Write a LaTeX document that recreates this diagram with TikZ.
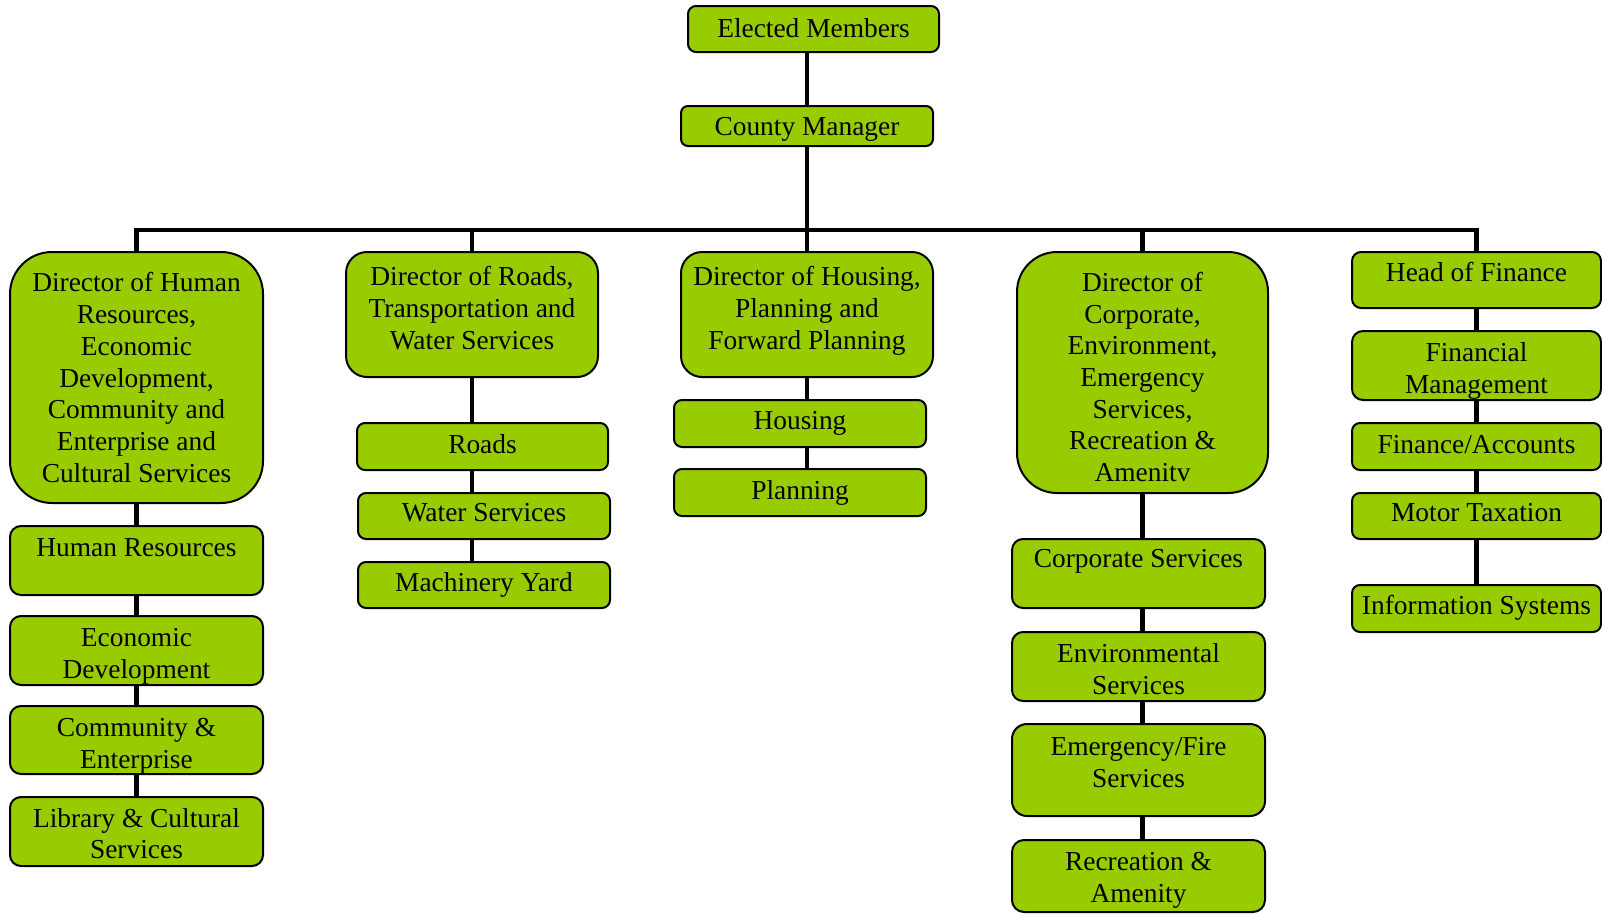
\documentclass[tikz,border=0pt]{standalone}
\usepackage{fontspec}
\setmainfont{Liberation Serif}
\usetikzlibrary{backgrounds}
\definecolor{leaf}{HTML}{99CC00}
\tikzset{
  x=1pt, y=-1pt,
  obox/.style={draw=black, line width=2pt, fill=leaf, rectangle, inner sep=0pt},
  txt/.style={align=center, inner sep=0pt, font=\fontsize{27.4pt}{31.7pt}\selectfont},
  one/.style={txt, text height=0.662em, text depth=0pt},
  conn/.style={draw=black, line width=4.5pt}
}
% name, cx, cy, width, height, radius
\newcommand\mkbox[6]{\node[obox, minimum width=#4pt, minimum height=#5pt, rounded corners=#6pt] (#1) at (#2,#3) {};}
\begin{document}
\begin{tikzpicture}
\useasboundingbox (0,0) rectangle (1602,913);
% top
\mkbox{em}{813.5}{29}{251}{46}{8}
\node[one] (em-t) at (813.5,34.5) {Elected Members};
\mkbox{cm}{807}{126}{252}{40}{7}
\node[one] (cm-t) at (807,132) {County Manager};
% column 1
\mkbox{hrd}{136.5}{377.5}{253}{251}{42}
\node[txt] (hrd-t) at (136.5,377.5) {Director of Human\\Resources,\\Economic\\Development,\\Community and\\Enterprise and\\Cultural Services};
\mkbox{hr1}{136.5}{560.5}{253}{69}{11}
\node[one] (hr1-t) at (136.5,553.3) {Human Resources};
\mkbox{hr2}{136.5}{650.5}{253}{69}{11}
\node[txt] (hr2-t) at (136.5,656) {Economic\\Development};
\mkbox{hr3}{136.5}{740}{253}{68}{11}
\node[txt] (hr3-t) at (136.5,746) {Community \&\\Enterprise};
\mkbox{hr4}{136.5}{831.5}{253}{69}{11}
\node[txt] (hr4-t) at (136.5,833.5) {Library \& Cultural\\Services};
% column 2
\mkbox{rd}{472}{314.5}{252}{125}{21}
\node[txt] (rd-t) at (472,308) {Director of Roads,\\Transportation and\\Water Services};
\mkbox{rd1}{482.5}{446.5}{251}{47}{8}
\node[one] (rd1-t) at (482.5,450) {Roads};
\mkbox{rd2}{484}{516}{252}{46}{8}
\node[one] (rd2-t) at (484,518.5) {Water Services};
\mkbox{rd3}{484}{585}{252}{46}{8}
\node[one] (rd3-t) at (484,588) {Machinery Yard};
% column 3
\mkbox{hd}{807}{314.5}{252}{125}{21}
\node[txt] (hd-t) at (807,311) {Director of Housing,\\Planning and\\Forward Planning};
\mkbox{hd1}{800}{423.5}{252}{47}{8}
\node[one] (hd1-t) at (800,426.5) {Housing};
\mkbox{hd2}{800}{492.5}{252}{47}{8}
\node[one] (hd2-t) at (800,496) {Planning};
% column 4
\mkbox{cd}{1142.5}{372.5}{251}{241}{40}
\node[txt] (cd-t) at (1142.5,377) {Director of\\Corporate,\\Environment,\\Emergency\\Services,\\Recreation \&\\Amenitv};
\mkbox{cd1}{1138.5}{573.5}{253}{69}{11}
\node[one] (cd1-t) at (1138.5,564.5) {Corporate Services};
\mkbox{cd2}{1138.5}{666.5}{253}{69}{11}
\node[txt] (cd2-t) at (1138.5,669) {Environmental\\Services};
\mkbox{cd3}{1138.5}{770}{253}{92}{15}
\node[txt] (cd3-t) at (1138.5,762.7) {Emergency/Fire\\Services};
\mkbox{cd4}{1138.5}{876}{253}{72}{12}
\node[txt] (cd4-t) at (1138.5,880) {Recreation \&\\Amenity};
% column 5
\mkbox{fd}{1476.5}{280}{249}{56}{9}
\node[one] (fd-t) at (1476.5,278.5) {Head of Finance};
\mkbox{fd1}{1476.5}{365.5}{249}{69}{11}
\node[txt] (fd1-t) at (1476.5,371) {Financial\\Management};
\mkbox{fd2}{1476.5}{446.5}{249}{47}{8}
\node[one] (fd2-t) at (1476.5,450) {Finance/Accounts};
\mkbox{fd3}{1476.5}{516}{249}{46}{8}
\node[one] (fd3-t) at (1476.5,518.5) {Motor Taxation};
\mkbox{fd4}{1476.5}{608.5}{249}{47}{8}
\node[one] (fd4-t) at (1476.5,611.5) {Information Systems};
% connectors
\coordinate (bus) at (807,230);
\begin{scope}[on background layer]
\draw[conn] (cm.north) -- (cm.north |- em.south);
\draw[conn] (cm.south) -- (bus);
\draw[conn] (hrd.north) |- (bus);
\draw[conn] (rd.north) |- (bus);
\draw[conn] (hd.north) -- (bus);
\draw[conn] (cd.north) |- (bus);
\draw[conn] (fd.north) |- (bus);
% column 1
\draw[conn] (hrd.south) -- (hrd.south |- hr1.north);
\draw[conn] (hr1.south) -- (hr1.south |- hr2.north);
\draw[conn] (hr2.south) -- (hr2.south |- hr3.north);
\draw[conn] (hr3.south) -- (hr3.south |- hr4.north);
% column 2
\draw[conn] (rd.south) -- (rd.south |- rd3.north);
% column 3
\draw[conn] (hd.south) -- (hd.south |- hd2.north);
% column 4
\draw[conn] (cd.south) -- (cd.south |- cd4.north);
% column 5
\draw[conn] (fd.south) -- (fd.south |- fd4.north);
\end{scope}
\end{tikzpicture}
\end{document}
